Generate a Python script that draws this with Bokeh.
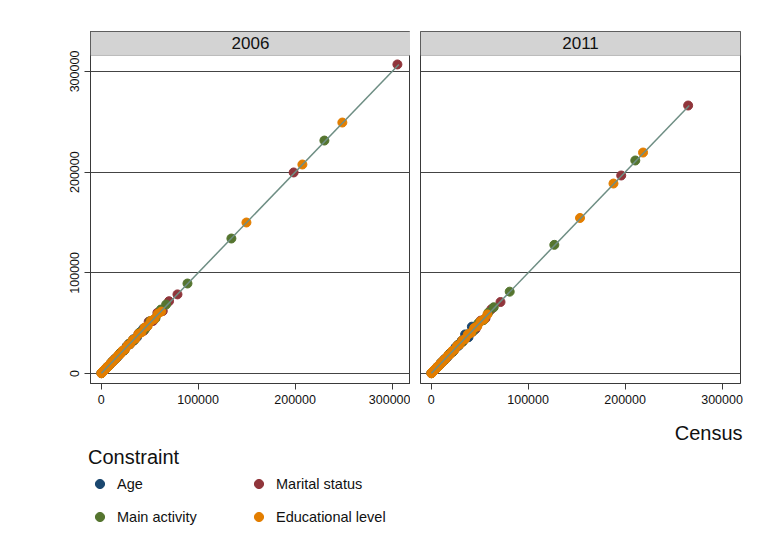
from bokeh.plotting import figure
from bokeh.layouts import row, column
from bokeh.models import (Range1d, FixedTicker, BasicTickFormatter, Label, Legend,
                          LegendItem, Title, BoxAnnotation)
from bokeh.embed import file_html
from bokeh.resources import INLINE

# ---------------------------------------------------------------- data
YEARS = ["2006", "2011"]
CONSTRAINTS = ["Age", "Marital status", "Main activity", "Educational level"]
COLORS = {
    "Age": "#1a476f",
    "Marital status": "#90353b",
    "Main activity": "#55752f",
    "Educational level": "#e37e00",
}
AXIS_TICKS = [0, 100000, 200000, 300000]

# 2006: census counts and the matching estimated counts per constraint
age_census_2006 = [300, 800, 1500, 2400, 3500, 4800, 6300, 8000, 10000, 12200, 14600,
                   17200, 20000, 23000, 26200, 29600, 33200, 37000, 40500, 43500, 47000]
age_estimate_2006 = [330, 760, 1560, 2330, 3620, 4700, 6450, 7850, 10300, 11900, 15000,
                     16800, 20500, 22500, 26900, 29000, 34000, 36200, 41200, 44600, 46300]

marital_census_2006 = [500, 1300, 2600, 4300, 6400, 9000, 12000, 15500, 19500, 24000, 28500,
                       33500, 38500, 44000, 49000, 53500, 58000, 63500, 70000, 78700,
                       198500, 305500]
marital_estimate_2006 = [520, 1250, 2700, 4150, 6600, 8700, 12400, 15000, 20100, 23300, 29300,
                         32600, 39600, 42500, 51500, 52200, 60300, 62000, 71800, 78600,
                         199700, 307000]

main_census_2006 = [400, 1100, 2100, 3600, 5600, 8200, 11300, 15000, 19200, 23800, 28800,
                    34000, 39500, 45000, 50500, 56000, 61500, 67000, 89000, 134300, 230200]
main_estimate_2006 = [420, 1060, 2200, 3480, 5800, 7900, 11700, 14500, 19800, 23100, 29600,
                      33100, 40600, 43800, 52000, 54800, 63500, 68500, 89400, 134100, 231400]

educ_census_2006 = [200, 600, 1100, 1800, 2600, 3500, 4500, 5700, 7000, 8400, 10000, 11700,
                    13500, 15400, 17500, 19700, 22000, 24400, 27000, 29700, 32500, 35400,
                    38400, 41500, 44700, 48000, 51400, 54900, 58500, 62000,
                    149800, 207500, 248700]
educ_estimate_2006 = [220, 570, 1180, 1720, 2750, 3380, 4700, 5500, 7300, 8150, 10400, 11300,
                      14000, 15000, 18100, 19200, 22700, 23800, 27700, 29100, 33300, 34700,
                      39200, 40800, 45600, 47300, 52300, 54200, 59400, 61500,
                      150000, 207600, 249300]

# 2011
age_census_2011 = [300, 750, 1400, 2300, 3300, 4500, 6000, 7700, 9600, 11700, 14000,
                   16500, 19200, 22000, 25000, 28200, 31500, 35000, 38500, 42000, 45500]
age_estimate_2011 = [320, 720, 1470, 2230, 3420, 4380, 6200, 7500, 9900, 11400, 14500,
                     16000, 19800, 21400, 25800, 27500, 32500, 38800, 36000, 46500, 44000]

marital_census_2011 = [450, 1200, 2400, 4000, 6000, 8500, 11400, 14800, 18700, 23000, 27500,
                       32500, 37500, 42500, 46000, 51000, 56000, 62000, 71500,
                       196000, 265000]
marital_estimate_2011 = [470, 1150, 2500, 3850, 6200, 8200, 11800, 14300, 19300, 22300, 28300,
                         31600, 38600, 41300, 44700, 52500, 54800, 63800, 71000,
                         196700, 266200]

main_census_2011 = [380, 1000, 2000, 3400, 5300, 7800, 10800, 14300, 18300, 22700, 27500,
                    32500, 37800, 43000, 48500, 54000, 59000, 64500, 81000, 127000, 210500]
main_estimate_2011 = [400, 960, 2100, 3280, 5500, 7500, 11200, 13800, 18900, 22000, 28300,
                      31700, 38800, 41900, 49800, 53000, 60500, 65800, 81300, 127800, 211600]

educ_census_2011 = [180, 550, 1050, 1700, 2500, 3400, 4400, 5500, 6800, 8200, 9700, 11400,
                    13200, 15100, 17200, 19400, 21700, 24100, 26600, 29300, 32100, 35000,
                    38000, 41100, 44300, 47600, 51000, 54500, 58000,
                    153500, 188000, 218500]
educ_estimate_2011 = [200, 520, 1120, 1630, 2650, 3280, 4600, 5300, 7100, 7950, 10100, 11000,
                      13700, 14700, 17800, 18900, 22400, 23500, 27300, 28700, 32900, 34300,
                      38800, 40400, 45200, 46900, 51900, 53800, 58700,
                      154500, 188700, 219500]

PANELS = {
    "2006": {
        "Age": (age_census_2006, age_estimate_2006),
        "Marital status": (marital_census_2006, marital_estimate_2006),
        "Main activity": (main_census_2006, main_estimate_2006),
        "Educational level": (educ_census_2006, educ_estimate_2006),
    },
    "2011": {
        "Age": (age_census_2011, age_estimate_2011),
        "Marital status": (marital_census_2011, marital_estimate_2011),
        "Main activity": (main_census_2011, main_estimate_2011),
        "Educational level": (educ_census_2011, educ_estimate_2011),
    },
}

# ---------------------------------------------------------------- layout constants
FONT = "Liberation Sans"
LINE_DARK = "#3a3a3a"
X_LO, X_HI = -11000, 319000
Y_LO = -9930
HEADER_BOTTOM = 315900          # strip with the year sits above this value
Y_TOP = 339730
PANEL_H = 413
KEY_H = 544 - PANEL_H


def make_panel(year, width, border_left, border_right, show_y_labels):
    p = figure(width=width, height=PANEL_H,
               x_range=Range1d(X_LO, X_HI), y_range=Range1d(Y_LO, Y_TOP),
               output_backend="svg", toolbar_location=None,
               min_border_top=31, min_border_bottom=PANEL_H - 383,
               min_border_left=border_left, min_border_right=border_right,
               background_fill_color="white", border_fill_color="white")
    p.outline_line_color = LINE_DARK
    p.outline_line_width = 1

    for ax in (p.xaxis[0], p.yaxis[0]):
        ax.ticker = FixedTicker(ticks=AXIS_TICKS)
        ax.formatter = BasicTickFormatter(use_scientific=False)
        ax.axis_line_color = LINE_DARK
        ax.major_tick_line_color = LINE_DARK
        ax.major_tick_out = 6
        ax.major_tick_in = 0
        ax.minor_tick_line_color = None
        ax.major_label_text_font = FONT
        ax.major_label_text_font_size = "12.5px"
        ax.major_label_text_color = "#111111"
        ax.major_label_standoff = 5
    p.yaxis.major_label_orientation = "vertical"
    if not show_y_labels:
        p.yaxis.visible = False

    p.xgrid.visible = False
    p.ygrid.ticker = FixedTicker(ticks=AXIS_TICKS)
    p.ygrid.grid_line_color = "#444444"
    p.ygrid.grid_line_width = 1

    all_vals = []
    for c in CONSTRAINTS:
        xs, ys = PANELS[year][c]
        all_vals += list(xs) + list(ys)
        p.scatter(xs, ys, size=9, marker="circle",
                  fill_color=COLORS[c], line_color=COLORS[c])
    lo, hi = min(all_vals), max(all_vals)
    p.line([lo, hi], [lo, hi], line_color="#6e8e84", line_width=1.5)

    # year strip across the top of the panel
    p.add_layout(BoxAnnotation(bottom=HEADER_BOTTOM, top=Y_TOP,
                               fill_color="#d3d3d3", fill_alpha=1.0,
                               line_color="#555555", line_width=1))
    p.add_layout(Label(x=(X_LO + X_HI) / 2, y=(HEADER_BOTTOM + Y_TOP) / 2,
                       text=year, text_align="center", text_baseline="middle",
                       text_font=FONT, text_font_size="17px", text_color="#111111"))
    return p


left = make_panel("2006", 410, 90, 0, True)
right = make_panel("2011", 347, 10, 17, False)

# strip below both panels: x-axis title on the right, legend on the left.
# The strip's ranges lie far below the counts, so its series only lend
# their marker styles to the legend.
key = figure(width=757, height=KEY_H, x_range=Range1d(0, 1), y_range=Range1d(0, 1),
             x_axis_type=None, y_axis_type=None,
             output_backend="svg", toolbar_location=None,
             min_border_left=88, min_border_right=15, min_border_top=33, min_border_bottom=0,
             background_fill_color="white", border_fill_color="white")
key.outline_line_color = None
key.grid.visible = False
key_renderers = {}
for c in CONSTRAINTS:
    xs, ys = PANELS["2006"][c]
    key_renderers[c] = key.scatter(xs, ys, size=9, marker="circle",
                                   fill_color=COLORS[c], line_color=COLORS[c])

key.add_layout(Title(text="Census", align="right", text_font=FONT,
                     text_font_size="20px", text_font_style="normal",
                     text_color="#111111", standoff=5), "above")

legend = Legend(
    items=[LegendItem(label="Age", renderers=[key_renderers["Age"]]),
           LegendItem(label="Main activity", renderers=[key_renderers["Main activity"]]),
           LegendItem(label="Marital status", renderers=[key_renderers["Marital status"]]),
           LegendItem(label="Educational level", renderers=[key_renderers["Educational level"]])],
    title="Constraint", location="top_left", ncols=2,
    title_text_font=FONT, title_text_font_size="20px", title_text_font_style="normal",
    title_text_color="#111111", title_standoff=3,
    label_text_font=FONT, label_text_font_size="14.5px", label_text_color="#111111",
    glyph_width=23, glyph_height=23, label_standoff=6, label_width=120, label_height=20,
    spacing=10, padding=0, margin=0,
    border_line_color=None, background_fill_alpha=0.0)
key.add_layout(legend, "center")

layout = column(row(left, right, spacing=0), key, spacing=0)
open("out.html", "w").write(file_html(layout, INLINE))
